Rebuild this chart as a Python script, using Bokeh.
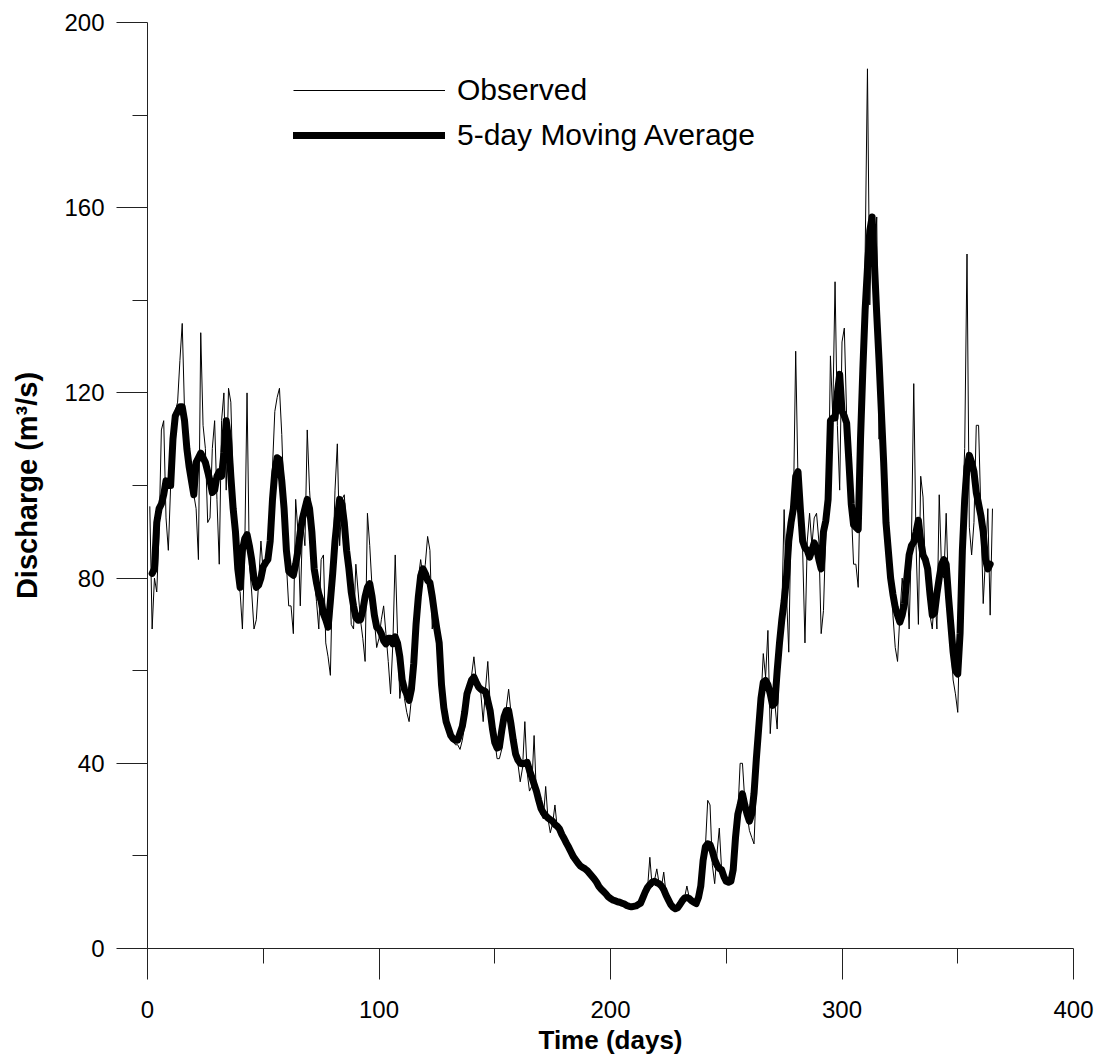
from bokeh.plotting import figure
from bokeh.models import Range1d, FixedTicker, Legend, LegendItem
from bokeh.embed import file_html
from bokeh.resources import INLINE

# ---- data (daily discharge, m3/s) ----
observed = [
    95.5, 69, 80, 77, 90, 112, 114, 93, 86, 100,
    111, 116, 118, 127, 135, 116, 106, 104, 102, 98,
    95, 84, 133, 113, 108, 92, 93, 108, 114, 97,
    83, 114, 120, 99, 121, 118, 100, 88, 78, 77,
    69, 86, 120, 83, 77, 69, 71, 79, 88, 81,
    84, 85, 90, 104, 116, 119, 121, 111, 96, 83,
    74, 74, 68, 97, 90, 74, 92, 87, 112, 99,
    91, 80, 75, 69, 84, 85, 66, 63, 59, 82,
    99, 109, 87, 97, 98, 90, 84, 70, 69, 83,
    77, 71, 67, 62, 94, 87, 78, 71, 65, 67,
    71, 74, 68, 62, 55, 66, 85, 68, 54, 59,
    54, 51, 49, 54, 65, 74, 80, 84, 80, 83,
    89, 86, 69, 75, 71, 67, 60, 54, 51, 47,
    46, 45, 44, 44, 43, 45, 48, 53, 56, 59,
    63, 58, 56, 55, 49, 56, 62, 53, 50, 45,
    41, 41, 43, 49, 52, 56, 51, 47, 42, 40,
    36, 39, 49, 38, 34, 35, 46, 33, 31, 29,
    28, 35, 28, 25, 27, 31, 26, 26, 25, 24,
    23, 22, 21, 20, 19, 18.5, 18, 17.5, 17, 16.8,
    16.3, 15.8, 15, 14.5, 13.5, 13, 12.3, 11.8, 11.3, 11,
    10.6, 10.4, 10.2, 10, 9.8, 9.6, 9.3, 9.1, 9, 9.2,
    9.1, 9.4, 9.6, 11, 12.5, 13, 19.7, 13.3, 14.7, 17.2,
    14, 13.3, 16.5, 11.8, 10.5, 9.5, 9, 8.5, 8.8, 9.5,
    10.5, 11, 13.5, 11, 10.2, 10, 9.8, 9.5, 14, 19,
    22, 32, 31, 18, 14, 20.5, 26, 17, 16, 15,
    15, 14.5, 15, 23, 29, 40, 40, 32, 29, 25.5,
    24, 22.6, 35.6, 46.4, 53.6, 63.7, 58.6, 68.7, 46.4, 55,
    53, 47.4, 64, 72.7, 94.8, 77, 64, 92.6, 94.8, 129,
    101, 97, 86, 66, 88, 94, 87, 93, 94, 88,
    68, 73, 90, 93, 128, 115, 144, 113, 99, 131,
    134, 115, 110, 95, 83, 83, 78, 104, 128, 150,
    190, 139, 158, 144, 158, 110, 128, 106, 91, 82,
    82, 72, 65, 62, 72, 80, 74, 81, 69, 88,
    122, 87, 70, 102, 97.5, 82, 77, 72, 69, 77,
    69, 98, 82, 80, 94, 77, 66.5, 58, 55, 51,
    72, 94, 108, 150, 91, 85, 92, 113, 113, 94,
    74.5, 84.5, 95, 72, 95,
]
obs_first_day = 1

moving_avg = [
    81, 82, 92, 95, 96, 98, 101, 100, 100, 110,
    115, 116, 117, 117, 114, 108, 104, 101, 98, 105,
    106, 107, 106, 105, 103, 101, 98.5, 99, 102, 103,
    102, 107, 114, 110, 102, 95, 90, 82, 78, 86,
    88.5, 89.4, 87, 84, 80, 78, 78.5, 80, 82.5, 83.3,
    84, 88, 97, 103, 106, 105.6, 101, 95, 86, 81.5,
    81, 80.6, 83, 86, 90, 93, 95, 97, 95, 90,
    82, 79, 76.6, 75, 72.3, 71, 69.4, 75, 81, 88,
    93, 97, 96, 92, 86, 82, 77, 74, 71.5, 70.9,
    71, 73, 76, 78, 78.8, 76, 72, 69.4, 69, 68,
    66.5, 65.8, 67, 67, 65.8, 67.3, 66, 63, 58, 56,
    55, 53.6, 56, 61.5, 70, 76, 80.5, 82, 81, 79.5,
    79, 76, 72.3, 69, 66, 57, 52, 49, 47.5, 46,
    45.3, 45, 45, 46.5, 48, 51, 55, 56.5, 58, 58.6,
    57.5, 56.5, 56, 55.7, 55.5, 53.5, 51.4, 47.5, 44.5, 43.3,
    43.5, 47, 50, 51.4, 51.4, 48.5, 45, 42, 40.7, 40,
    39.9, 40, 40.2, 38.5, 37, 35.5, 34, 32, 30.2, 29.3,
    28.7, 28.2, 27.8, 27.5, 26.8, 26.4, 25.8, 24.6, 23.7, 22.7,
    21.8, 20.8, 19.8, 19.1, 18.4, 17.8, 17.5, 17.2, 16.8, 16.2,
    15.6, 15, 14.3, 13.4, 12.8, 12.3, 11.8, 11.2, 10.8, 10.5,
    10.3, 10.1, 10, 9.8, 9.6, 9.3, 9.1, 9, 9.1, 9.2,
    9.5, 9.8, 11, 12.2, 13.2, 13.8, 14.3, 14.5, 14.2, 14,
    13.5, 12.7, 11.5, 10.5, 9.5, 8.9, 8.6, 8.8, 9.5, 10.3,
    10.9, 11, 10.8, 10.3, 10, 9.7, 11, 13.5, 19, 22,
    22.6, 22.4, 21, 19.2, 18, 17.3, 17, 15.5, 14.5, 14.3,
    14.5, 17, 24, 29, 31, 33.4, 31, 29, 27.5, 29,
    33.5, 41, 47.5, 54, 57.5, 57.9, 57, 55, 52.5, 53,
    60, 66, 71, 75, 80, 88, 92, 95, 102, 103,
    95, 88, 86.5, 86, 84.5, 86, 87.6, 86.5, 84, 82,
    90, 92.4, 97, 114, 114.6, 114.6, 120, 124, 116, 115,
    113.5, 105, 96, 91.5, 91, 90.5, 110, 125, 138, 147,
    155, 158, 148, 137, 127, 116, 105, 92, 86, 80,
    76.5, 73.7, 72, 70.5, 72, 74.5, 80, 85, 87, 87.8,
    90, 92.5, 88, 85, 84, 82, 76.5, 72, 72.5, 76.6,
    80, 83, 84, 83, 76, 70, 64, 60, 59.3, 68,
    86, 97, 104, 106.5, 105, 103, 98.5, 96, 93.5, 90,
    84, 82, 83,
]
ma_first_day = 2

x_ticks = [0, 100, 200, 300, 400]
x_minor = [50, 150, 250, 350]
y_ticks = [0, 40, 80, 120, 160, 200]
y_minor = [20, 60, 100, 140, 180]

obs_days = list(range(obs_first_day, obs_first_day + len(observed)))
ma_days = list(range(ma_first_day, ma_first_day + len(moving_avg)))

FONT = "Liberation Sans"

p = figure(width=1100, height=1057, output_backend="svg", toolbar_location=None,
           x_range=Range1d(0, 400), y_range=Range1d(0, 200),
           min_border_left=147, min_border_right=27, min_border_top=22,
           min_border_bottom=109)
p.outline_line_color = None
p.xgrid.visible = False
p.ygrid.visible = False
p.background_fill_color = "white"
p.border_fill_color = "white"

r_obs = p.line(obs_days, observed, line_color="black", line_width=1)
r_ma = p.line(ma_days, moving_avg, line_color="black", line_width=7,
              line_join="round", line_cap="round")

for ax, ticks, minor in ((p.xaxis[0], x_ticks, x_minor), (p.yaxis[0], y_ticks, y_minor)):
    ax.ticker = FixedTicker(ticks=ticks, minor_ticks=minor)
    ax.major_tick_out = 31
    ax.major_tick_in = 0
    ax.minor_tick_out = 15
    ax.minor_tick_in = 0
    ax.axis_line_color = "#222222"
    ax.major_tick_line_color = "#222222"
    ax.minor_tick_line_color = "#222222"
    ax.major_label_text_font = FONT
    ax.major_label_text_font_size = "24px"
    ax.major_label_text_color = "black"
    ax.axis_label_text_font = FONT
    ax.axis_label_text_font_style = "bold"
    ax.axis_label_text_color = "black"

p.xaxis.axis_label = "Time (days)"
p.yaxis.axis_label = "Discharge (m³/s)"
p.xaxis.axis_label_text_font_size = "26px"
p.yaxis.axis_label_text_font_size = "29px"
p.xaxis.major_label_standoff = 21
p.yaxis.major_label_standoff = 12
p.xaxis.axis_label_standoff = 4
p.yaxis.axis_label_standoff = 18

legend = Legend(items=[LegendItem(label="Observed", renderers=[r_obs]),
                       LegendItem(label="5-day Moving Average", renderers=[r_ma])],
                location=(146, 796), glyph_width=152, glyph_height=20,
                label_height=20, spacing=11, padding=0, margin=0,
                border_line_color=None, background_fill_alpha=0,
                label_text_font=FONT, label_text_font_size="30px",
                label_text_color="black", label_standoff=12)
p.add_layout(legend)

open("out.html", "w").write(file_html(p, INLINE))
